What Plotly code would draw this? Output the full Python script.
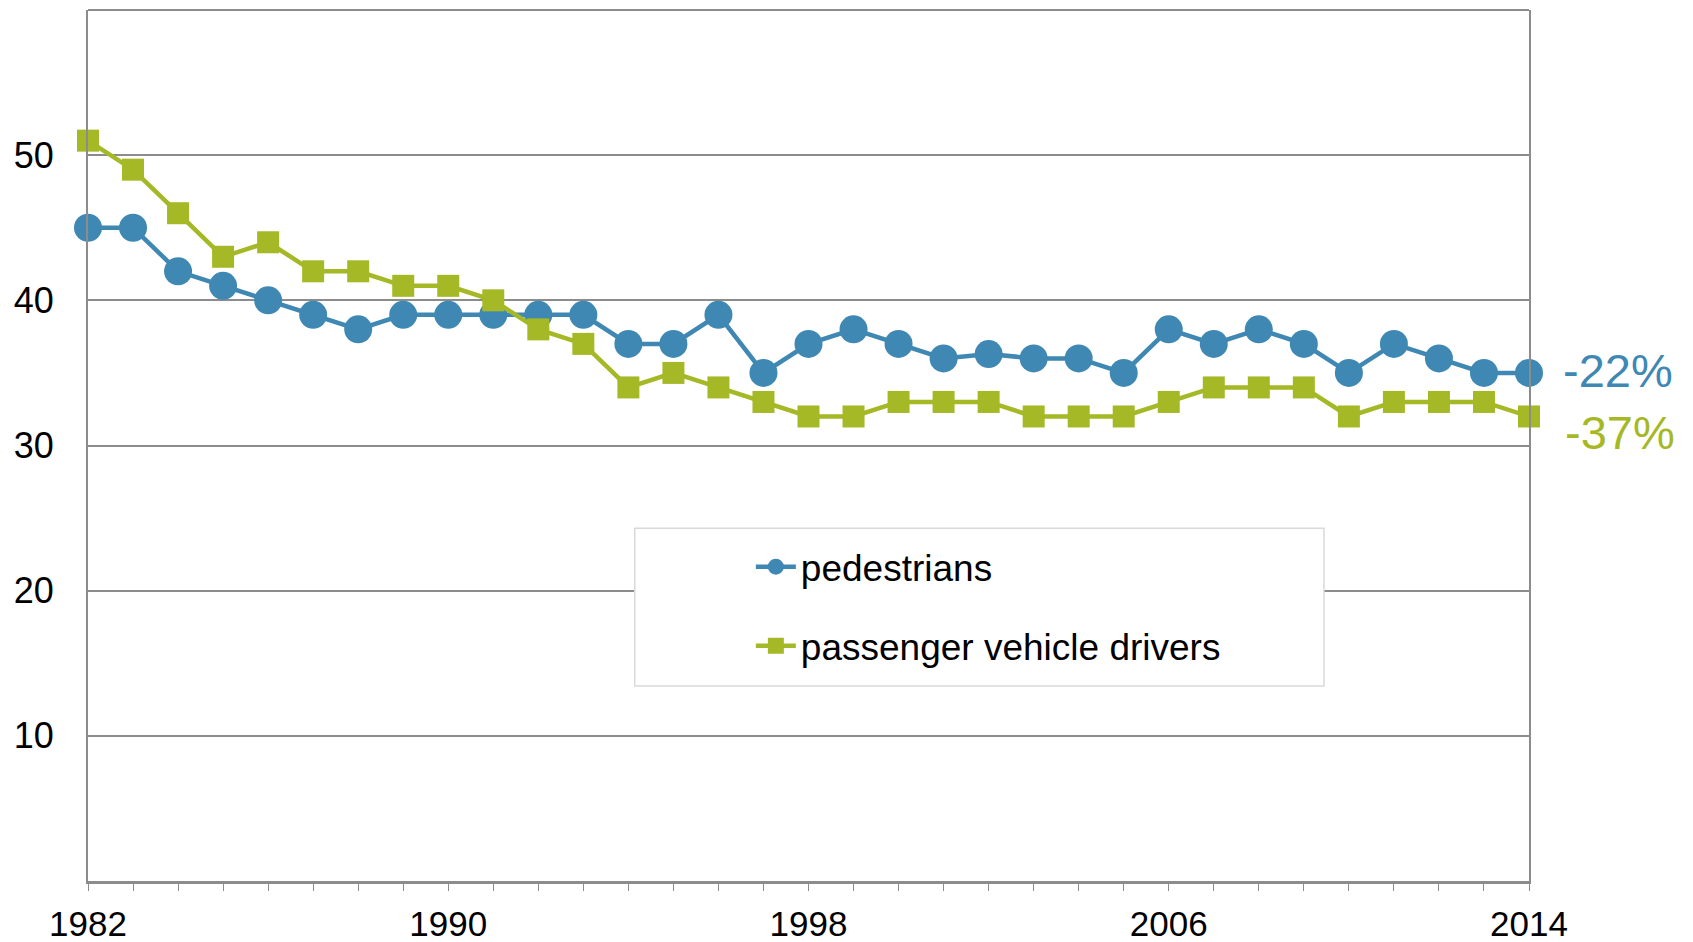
import plotly.graph_objects as go

years = list(range(1982, 2015))
pedestrians = [45, 45, 42, 41, 40, 39, 38, 39, 39, 39, 39, 39, 37, 37, 39, 35, 37,
               38, 37, 36, 36.3, 36, 36, 35, 38, 37, 38, 37, 35, 37, 36, 35, 35]
drivers = [51, 49, 46, 43, 44, 42, 42, 41, 41, 40, 38, 37, 34, 35, 34, 33, 32,
           32, 33, 33, 33, 32, 32, 32, 33, 34, 34, 34, 32, 33, 33, 33, 32]
tick_labels = ["1982", "1990", "1998", "2006", "2014"]
y_ticks = [10, 20, 30, 40, 50]
end_labels = ["-22%", "-37%"]
names = ["pedestrians", "passenger vehicle drivers"]

BLUE = "#3F88B3"
GREEN = "#A5B826"
GRID = "#8C8C8C"
FONT = "Liberation Sans, Arial, sans-serif"

fig = go.Figure()
fig.add_trace(go.Scatter(
    x=years, y=pedestrians, name=names[0], mode="lines+markers",
    line=dict(color=BLUE, width=4.5), marker=dict(symbol="circle", size=28, color=BLUE),
    cliponaxis=False, legendgroup="a"))
fig.add_trace(go.Scatter(
    x=years, y=drivers, name=names[1], mode="lines+markers",
    line=dict(color=GREEN, width=4.5), marker=dict(symbol="square", size=22, color=GREEN),
    cliponaxis=False, legendgroup="b"))

ticktext = [str(y) if str(y) in tick_labels else "" for y in years]

fig.update_layout(
    width=1693, height=942,
    margin=dict(l=88, r=164, t=10, b=61, autoexpand=False),
    paper_bgcolor="white", plot_bgcolor="white",
    font=dict(family=FONT, size=35, color="black"),
    showlegend=True,
    legend=dict(x=0.46, y=0.396, xanchor="left", yanchor="top",
                bgcolor="rgba(0,0,0,0)", borderwidth=0,
                font=dict(size=37), tracegroupgap=28, itemwidth=40,
                traceorder="grouped"),
    xaxis=dict(range=[1982, 2014], tickmode="array", tickvals=years, ticktext=ticktext,
               ticks="outside", ticklen=7, tickcolor=GRID, tickwidth=1,
               showline=True, linecolor=GRID, linewidth=3, mirror=False,
               showgrid=False, zeroline=False, ticklabelstandoff=3, automargin=False,
               tickfont=dict(size=35)),
    yaxis=dict(range=[0, 60], tickmode="array", tickvals=y_ticks,
               ticks="", showline=True, linecolor=GRID, linewidth=2, mirror=True,
               showgrid=True, gridcolor=GRID, gridwidth=1.5, zeroline=False,
               ticklabelstandoff=25, automargin=False, tickfont=dict(size=36)),
    shapes=[dict(type="rect", xref="paper", yref="paper",
                 x0=0.3794, x1=0.8577, y0=0.2238, y1=0.4051,
                 line=dict(color="#D9D9D9", width=1.5), fillcolor="white", layer="above")],
)
# top border line
fig.add_shape(type="line", xref="paper", yref="paper", x0=0, x1=1, y0=1, y1=1,
              line=dict(color=GRID, width=2), layer="above")

fig.add_annotation(x=years[-1], y=pedestrians[-1], xref="x", yref="y", text=end_labels[0],
                   showarrow=False, xanchor="left", yanchor="middle", xshift=32, yshift=2,
                   font=dict(size=47, color=BLUE, family=FONT))
fig.add_annotation(x=years[-1], y=drivers[-1], xref="x", yref="y", text=end_labels[1],
                   showarrow=False, xanchor="left", yanchor="middle", xshift=34, yshift=-16,
                   font=dict(size=47, color=GREEN, family=FONT))

fig.write_html("out.html", config={"displayModeBar": False},
               post_script="document.body.style.margin='0';document.body.style.overflow='hidden';")
